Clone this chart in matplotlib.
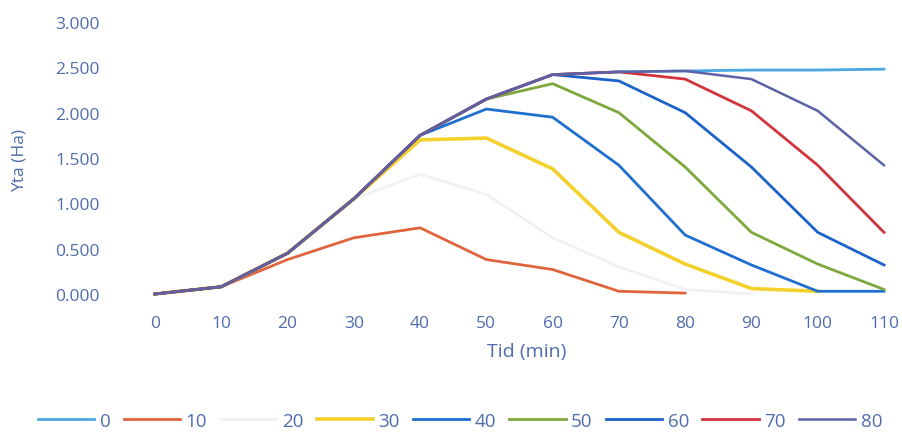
import matplotlib
matplotlib.use("Agg")
import matplotlib.pyplot as plt

plt.rcParams['font.family'] = ['Open Sans', 'DejaVu Sans']

time_min = [0, 10, 20, 30, 40, 50, 60, 70, 80, 90, 100, 110]
x_ticks = [0, 10, 20, 30, 40, 50, 60, 70, 80, 90, 100, 110]
y_ticks = [0.0, 0.5, 1.0, 1.5, 2.0, 2.5, 3.0]

series_labels = ["0", "10", "20", "30", "40", "50", "60", "70", "80"]

s0 = [0.0, 0.08, 0.45, 1.05, 1.75, 2.15, 2.42, 2.45, 2.46, 2.47, 2.47, 2.48]
s10 = [0.0, 0.08, 0.38, 0.62, 0.73, 0.38, 0.27, 0.03, 0.01, None, None, None]
s20 = [0.0, 0.08, 0.45, 1.05, 1.32, 1.10, 0.62, 0.30, 0.05, 0.0, None, None]
s30 = [0.0, 0.08, 0.45, 1.05, 1.70, 1.72, 1.38, 0.68, 0.33, 0.06, 0.03, None]
s40 = [0.0, 0.08, 0.45, 1.05, 1.75, 2.04, 1.95, 1.42, 0.65, 0.32, 0.03, 0.03]
s50 = [0.0, 0.08, 0.45, 1.05, 1.75, 2.15, 2.32, 2.00, 1.40, 0.68, 0.33, 0.05]
s60 = [0.0, 0.08, 0.45, 1.05, 1.75, 2.15, 2.42, 2.35, 2.00, 1.40, 0.68, 0.32]
s70 = [0.0, 0.08, 0.45, 1.05, 1.75, 2.15, 2.42, 2.45, 2.37, 2.02, 1.42, 0.68]
s80 = [0.0, 0.08, 0.45, 1.05, 1.75, 2.15, 2.42, 2.45, 2.46, 2.37, 2.02, 1.42]

all_series = [s0, s10, s20, s30, s40, s50, s60, s70, s80]
colors = ["#4aa8e4", "#e0643e", "#eef2f7", "#f3d02c", "#1f6fd0",
          "#7fa83c", "#1c62c8", "#d2343c", "#5b62a6"]
widths = [2.0, 2.0, 2.0, 2.6, 2.0, 2.0, 2.0, 2.0, 1.8]
zorders = [3, 3, 2, 3, 4, 4, 5, 6, 7]

text_color = "#4f6cad"

fig = plt.figure(figsize=(9.02, 4.35), dpi=100)
ax = fig.add_axes([155/902, 1 - 295/435, 729/902, 272/435])

for lab, ys, c, w, z in zip(series_labels, all_series, colors, widths, zorders):
    xs = [t for t, v in zip(time_min, ys) if v is not None]
    vs = [v for v in ys if v is not None]
    ax.plot(xs, vs, color=c, lw=w, label=lab, clip_on=False, zorder=z,
            solid_joinstyle='round')

ax.set_xlim(0, 110)
ax.set_ylim(0, 3)
ax.set_xticks(x_ticks)
ax.set_xticklabels([str(t) for t in x_ticks])
ax.set_yticks(y_ticks)
ax.set_yticklabels([f"{v:.3f}" for v in y_ticks])
for s in ax.spines.values():
    s.set_visible(False)
ax.tick_params(axis='both', length=0, colors=text_color, labelsize=12.5)
ax.tick_params(axis='y', pad=40)
ax.tick_params(axis='x', pad=15)

fig.text(20/902, 1 - 160/435, "Yta (Ha)", rotation=90, ha='center', va='center',
         color=text_color, fontsize=12.5)
fig.text(527/902, 1 - 352/435, "Tid (min)", ha='center', va='center',
         color=text_color, fontsize=14)

leg = fig.legend(loc='center', bbox_to_anchor=(460/902, 1 - 422/435), ncol=9,
                 frameon=False, fontsize=13.5, handlelength=3.0, handletextpad=0.3,
                 columnspacing=0.7)
for t in leg.get_texts():
    t.set_color(text_color)

fig.savefig("out.png", dpi=100)
